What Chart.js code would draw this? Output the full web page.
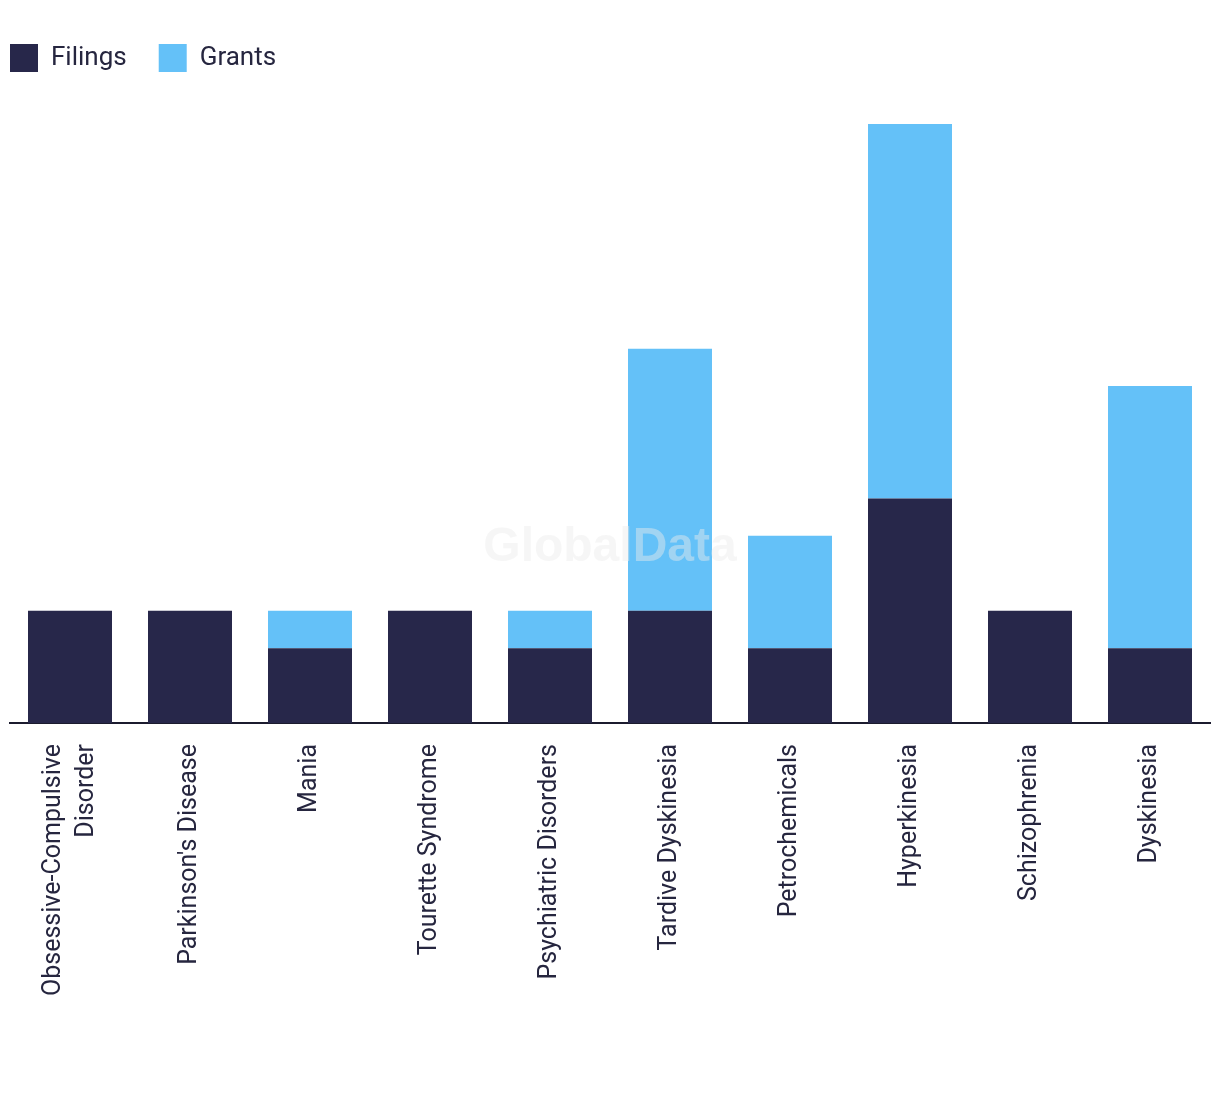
<!DOCTYPE html>
<html>
<head>
<meta charset="utf-8">
<script src="https://cdn.jsdelivr.net/npm/chart.js@4.4.1/dist/chart.umd.min.js"></script>
<style>
  html, body { margin: 0; padding: 0; background: #fff; }
  #wrap { width: 1220px; height: 1094px; }
</style>
</head>
<body>
<div id="wrap"><canvas id="chart" width="1220" height="1094"></canvas></div>
<script>
const categories = [
  ['Obsessive-Compulsive', 'Disorder'],
  "Parkinson's Disease",
  'Mania',
  'Tourette Syndrome',
  'Psychiatric Disorders',
  'Tardive Dyskinesia',
  'Petrochemicals',
  'Hyperkinesia',
  'Schizophrenia',
  'Dyskinesia'
];
const filings = [3, 3, 2, 3, 2, 3, 2, 6, 3, 2];
const grants = [0, 0, 1, 0, 1, 7, 3, 10, 0, 7];

const FONT = 'Roboto, "Open Sans", sans-serif';
const TEXT = '#26263f';

// push the legend box to the left edge and make room below it
const legendTweak = {
  id: 'legendTweak',
  beforeInit(chart) {
    const fit = chart.legend.fit;
    chart.legend.fit = function () {
      fit.call(this);
      this.height = 112;
    };
  },
  beforeDraw(chart) {
    chart.legend.left = -22;
  }
};

// center two-line rotated labels on their tick
const centerMultiline = {
  id: 'centerMultiline',
  beforeDraw(chart) {
    const items = chart.scales.x.getLabelItems();
    items.forEach((it) => {
      if (Array.isArray(it.label) && !it._centered) {
        it.textOffset -= (it.label.length - 1) * it.font.lineHeight / 2;
        it._centered = true;
      }
    });
  }
};

const watermark = {
  id: 'watermark',
  afterDatasetsDraw(chart) {
    const { ctx, chartArea } = chart;
    ctx.save();
    ctx.font = 'bold 48px "Liberation Sans", Arial, sans-serif';
    ctx.fillStyle = 'rgba(235,235,235,0.45)';
    ctx.textAlign = 'center';
    ctx.textBaseline = 'middle';
    ctx.fillText('GlobalData', (chartArea.left + chartArea.right) / 2, 548);
    ctx.restore();
  }
};

new Chart(document.getElementById('chart'), {
  type: 'bar',
  data: {
    labels: categories,
    datasets: [
      { label: 'Filings', data: filings, backgroundColor: '#27274a' },
      { label: 'Grants', data: grants, backgroundColor: '#64c1f8' }
    ]
  },
  options: {
    responsive: false,
    animation: false,
    layout: { padding: { top: 12, left: 10, right: 10, bottom: 0 } },
    datasets: { bar: { barPercentage: 0.7, categoryPercentage: 1 } },
    plugins: {
      legend: {
        align: 'start',
        labels: {
          boxWidth: 28, boxHeight: 28, padding: 32,
          color: TEXT, font: { family: FONT, size: 26 }
        }
      },
      tooltip: { enabled: false }
    },
    scales: {
      x: {
        stacked: true,
        grid: { display: false },
        border: { display: true, color: '#1b1b2e', width: 2 },
        ticks: {
          color: TEXT, font: { family: FONT, size: 25, lineHeight: 1.3 },
          minRotation: 90, maxRotation: 90, padding: 13, autoSkip: false
        },
        afterFit(scale) { scale.height = 371; }
      },
      y: {
        stacked: true, display: false, min: 0, max: 16
      }
    }
  },
  plugins: [legendTweak, centerMultiline, watermark]
});
</script>
</body>
</html>
